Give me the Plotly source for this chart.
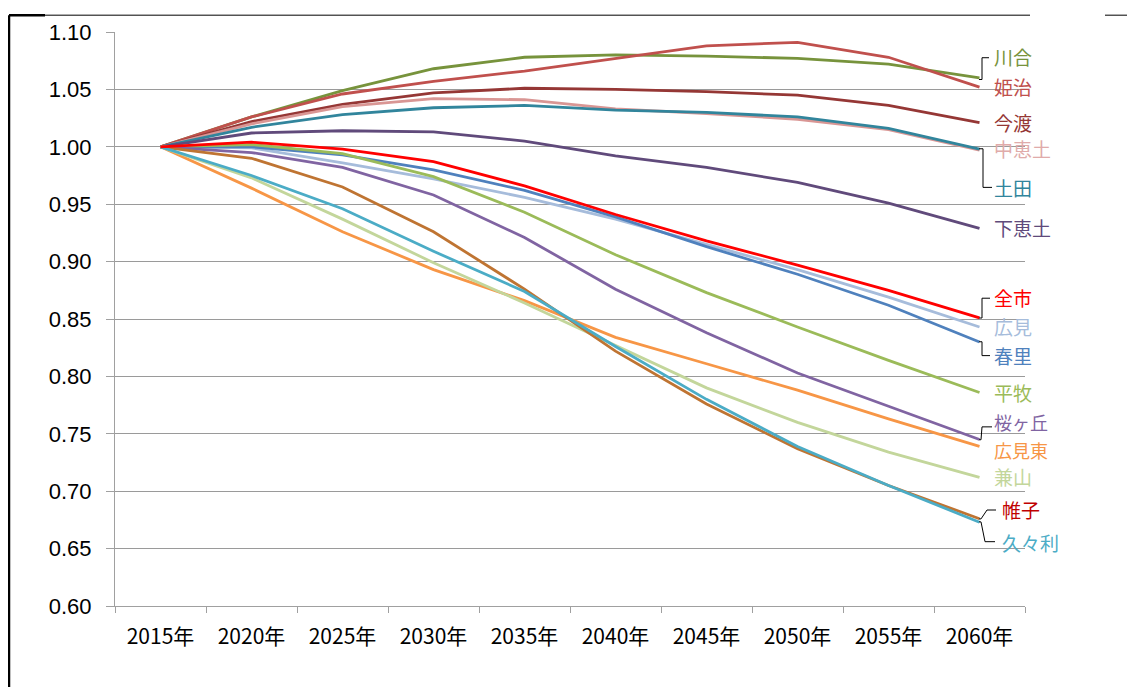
import plotly.graph_objects as go

years = ["2015年", "2020年", "2025年", "2030年", "2035年", "2040年", "2045年", "2050年", "2055年", "2060年"]

kawai = [1.000, 1.026, 1.049, 1.068, 1.078, 1.080, 1.079, 1.077, 1.072, 1.060]
himeji = [1.000, 1.026, 1.046, 1.057, 1.066, 1.077, 1.088, 1.091, 1.078, 1.052]
imawatari = [1.000, 1.022, 1.037, 1.047, 1.051, 1.050, 1.048, 1.045, 1.036, 1.021]
nakaedo = [1.000, 1.020, 1.035, 1.042, 1.041, 1.033, 1.029, 1.024, 1.015, 0.997]
dota = [1.000, 1.017, 1.028, 1.034, 1.036, 1.032, 1.030, 1.026, 1.016, 0.998]
shimoedo = [1.000, 1.012, 1.014, 1.013, 1.005, 0.992, 0.982, 0.969, 0.951, 0.929]
zenshi = [1.000, 1.004, 0.998, 0.987, 0.966, 0.941, 0.918, 0.897, 0.875, 0.851]
hiromi = [1.000, 0.999, 0.986, 0.972, 0.956, 0.937, 0.915, 0.893, 0.869, 0.843]
harusato = [1.000, 1.000, 0.993, 0.980, 0.962, 0.939, 0.913, 0.889, 0.862, 0.830]
hirabaki = [1.000, 1.002, 0.994, 0.974, 0.943, 0.906, 0.873, 0.843, 0.814, 0.786]
sakuragaoka = [1.000, 0.995, 0.982, 0.958, 0.921, 0.876, 0.838, 0.803, 0.774, 0.745]
hiromihigashi = [1.000, 0.964, 0.926, 0.893, 0.866, 0.834, 0.811, 0.788, 0.763, 0.739]
kaneyama = [1.000, 0.973, 0.937, 0.899, 0.864, 0.827, 0.790, 0.760, 0.734, 0.712]
katabira = [1.000, 0.990, 0.965, 0.926, 0.876, 0.822, 0.776, 0.737, 0.705, 0.676]
kukuri = [1.000, 0.975, 0.946, 0.909, 0.874, 0.826, 0.780, 0.739, 0.705, 0.673]

series = [
    ("川合", kawai, "#77933C", "#77933C"),
    ("姫治", himeji, "#C0504D", "#C0504D"),
    ("今渡", imawatari, "#953735", "#953735"),
    ("中恵土", nakaedo, "#D99694", "#E0ABAA"),
    ("土田", dota, "#31859C", "#31859C"),
    ("下恵土", shimoedo, "#604A7B", "#604A7B"),
    ("広見", hiromi, "#A6BCDB", "#A6BCDB"),
    ("春里", harusato, "#4F81BD", "#4F81BD"),
    ("平牧", hirabaki, "#9BBB59", "#9BBB59"),
    ("桜ヶ丘", sakuragaoka, "#8064A2", "#8064A2"),
    ("広見東", hiromihigashi, "#F79646", "#F79646"),
    ("兼山", kaneyama, "#C3D69B", "#C3D69B"),
    ("帷子", katabira, "#BF7432", "#C00000"),
    ("久々利", kukuri, "#4BACC6", "#4BACC6"),
    ("全市", zenshi, "#FF0000", "#FF0000"),
]

# label pixel positions in the page (layout only)
label_pos = {
    "川合": (993, 51), "姫治": (993, 81), "今渡": (993, 117), "中恵土": (993, 144),
    "土田": (993, 183), "下恵土": (993, 224), "全市": (993, 294), "広見": (993, 324),
    "春里": (993, 353), "平牧": (993, 390), "桜ヶ丘": (993, 420), "広見東": (993, 448),
    "兼山": (993, 475), "帷子": (1001, 508), "久々利": (1001, 542),
}

OFF = 8  # page body margin
W, H = 1135 - 2 * OFF, 695 - 2 * OFF
L, R, T, B = 115, 1025, 26, 606  # plot area in page pixels


def px(x, y):
    return (x - L) / (R - L), (B - y) / (B - T)


fig = go.Figure()
for name, vals, col, _ in series:
    fig.add_trace(go.Scatter(x=years, y=vals, mode="lines", name=name,
                             line=dict(color=col, width=2.8), showlegend=False))

annotations = []
for name, vals, col, tcol in series:
    x, y = px(*label_pos[name])
    fs = 18 if name in ("桜ヶ丘", "広見東") else 19
    annotations.append(dict(x=x, y=y, xref="paper", yref="paper", text=name,
                            showarrow=False, xanchor="left", yanchor="middle", borderpad=0,
                            font=dict(size=fs, color=tcol, family="Noto Sans CJK JP")))

shapes = []
leaders = [
    [(979, 74), (982, 74), (982, 52), (989, 52)],
    [(979, 144), (983, 144), (983, 183), (992, 183)],
    [(979, 315), (982, 315), (982, 295), (990, 295)],
    [(979, 339), (982, 339), (982, 353), (990, 353)],
    [(979, 438), (981, 438), (982, 425), (992, 425)],
    [(979, 518), (981, 518), (987, 509), (996, 509)],
    [(979, 521), (981, 521), (985, 541), (995, 541)],
]
for pts in leaders:
    for (x0, y0), (x1, y1) in zip(pts[:-1], pts[1:]):
        a0, b0 = px(x0, y0)
        a1, b1 = px(x1, y1)
        shapes.append(dict(type="line", xref="paper", yref="paper", x0=a0, y0=b0, x1=a1, y1=b1,
                           line=dict(color="#000000", width=1)))

# outer frame fragments
for (x0, y0, x1, y1, w) in [(9, 9, 9, 700, 2.5), (9, 9, 45, 9, 2.5), (45, 9, 1030, 9, 1),
                             (1105, 9, 1132, 9, 1)]:
    a0, b0 = px(x0, y0)
    a1, b1 = px(x1, y1)
    shapes.append(dict(type="line", xref="paper", yref="paper", x0=a0, y0=b0, x1=a1, y1=b1,
                       line=dict(color="#000000", width=w)))

fig.update_layout(
    width=W, height=H,
    margin=dict(l=L - OFF, r=(W + OFF) - R, t=T - OFF, b=(H + OFF) - B),
    paper_bgcolor="white", plot_bgcolor="white",
    font=dict(family="Noto Sans CJK JP", color="#000000"),
    annotations=annotations, shapes=shapes,
    xaxis=dict(type="category", showgrid=False, showline=True, linecolor="#A0A0A0", linewidth=1,
               ticks="outside", tickson="boundaries", ticklen=6, tickcolor="#A0A0A0",
               ticklabelstandoff=12,
               tickfont=dict(size=21, family="Noto Sans CJK JP"), range=[-0.5, 9.5]),
    yaxis=dict(range=[0.6, 1.1], dtick=0.05, tickformat=".2f", showgrid=True, gridcolor="#9A9A9A",
               gridwidth=1, showline=True, linecolor="#A0A0A0", linewidth=1, ticks="outside",
               ticklen=8, tickcolor="#A0A0A0", ticklabelstandoff=10,
               tickfont=dict(size=22, family="Liberation Sans"),
               zeroline=False),
)

fig.write_html("out.html")
